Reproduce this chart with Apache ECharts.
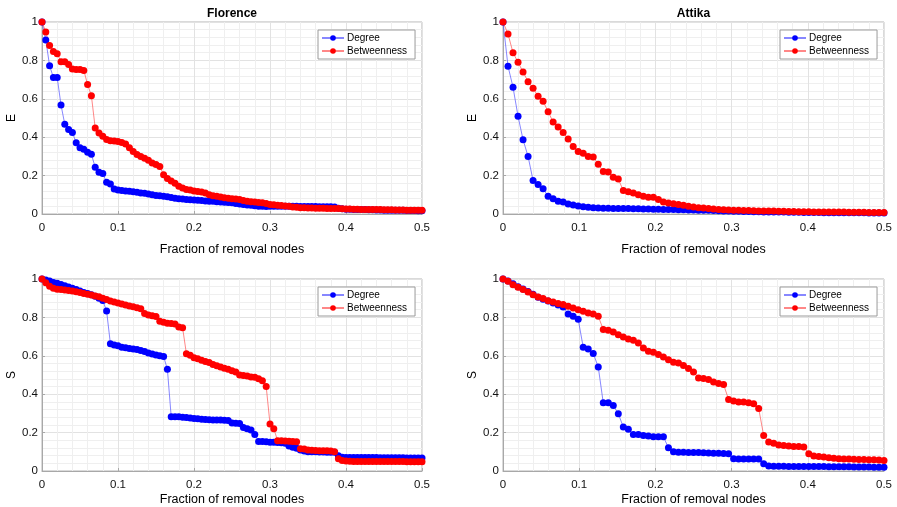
<!DOCTYPE html>
<html>
<head>
<meta charset="utf-8">
<script src="https://cdn.jsdelivr.net/npm/echarts@6/dist/echarts.min.js"></script>
<style>
html, body { margin: 0; padding: 0; background: #fff; }
#chart { width: 897px; height: 507px; }
</style>
</head>
<body>
<div id="chart"></div>
<script>
// fraction of nodes removed per step
const florenceStep = 0.005;
const attikaStep = 1 / 152;

const xTicks = [0, 0.1, 0.2, 0.3, 0.4, 0.5];
const yTicks = [0, 0.2, 0.4, 0.6, 0.8, 1];
const seriesNames = ['Degree', 'Betweenness'];
const panelTitles = ['Florence', 'Attika', '', ''];
const panelYNames = ['E', 'E', 'S', 'S'];

// Florence - efficiency E
const florenceEDegree = [
    1.0, 0.906, 0.772, 0.711, 0.711, 0.568, 0.467, 0.44, 0.425, 0.371, 0.345, 0.337, 0.321, 0.311, 0.243, 0.217, 0.211, 0.165, 0.156, 0.13,
    0.125, 0.122, 0.12, 0.118, 0.116, 0.113, 0.11, 0.108, 0.104, 0.1, 0.097, 0.095, 0.093, 0.09, 0.086, 0.082, 0.08, 0.078, 0.076, 0.074,
    0.073, 0.071, 0.07, 0.068, 0.067, 0.066, 0.064, 0.062, 0.061, 0.06, 0.058, 0.055, 0.052, 0.05, 0.047, 0.045, 0.043, 0.041, 0.04, 0.039,
    0.04, 0.04, 0.04, 0.04, 0.04, 0.04, 0.04, 0.04, 0.039, 0.039, 0.039, 0.039, 0.039, 0.038, 0.038, 0.038, 0.038, 0.037, 0.03, 0.027,
    0.025, 0.025, 0.024, 0.024, 0.023, 0.023, 0.022, 0.022, 0.021, 0.021, 0.02, 0.02, 0.02, 0.019, 0.019, 0.019, 0.018, 0.018, 0.018, 0.017, 0.017
];
const florenceEBetweenness = [
    1.0, 0.948, 0.878, 0.847, 0.835, 0.793, 0.793, 0.778, 0.755, 0.752, 0.752, 0.748, 0.674, 0.616, 0.448, 0.422, 0.405, 0.388, 0.382, 0.38,
    0.378, 0.372, 0.365, 0.345, 0.325, 0.31, 0.3, 0.29, 0.28, 0.265, 0.258, 0.248, 0.205, 0.185, 0.172, 0.16, 0.145, 0.135, 0.128, 0.125,
    0.12, 0.117, 0.114, 0.11, 0.1, 0.095, 0.092, 0.088, 0.085, 0.082, 0.08, 0.078, 0.075, 0.07, 0.066, 0.064, 0.062, 0.06, 0.058, 0.055,
    0.05, 0.048, 0.046, 0.044, 0.042, 0.04, 0.037, 0.035, 0.033, 0.032, 0.031, 0.031, 0.03, 0.03, 0.03, 0.029, 0.029, 0.028, 0.028, 0.027,
    0.026, 0.026, 0.025, 0.025, 0.024, 0.024, 0.024, 0.023, 0.023, 0.023, 0.022, 0.022, 0.022, 0.021, 0.021, 0.021, 0.02, 0.02, 0.02, 0.02, 0.02
];

// Attika - efficiency E
const attikaEDegree = [
    1.0, 0.77, 0.66, 0.509, 0.387, 0.3, 0.174, 0.153, 0.132, 0.092, 0.08, 0.066, 0.062, 0.052, 0.047, 0.042, 0.038, 0.035, 0.033, 0.031,
    0.03, 0.03, 0.029, 0.029, 0.028, 0.028, 0.027, 0.027, 0.026, 0.026, 0.025, 0.025, 0.024, 0.024, 0.023, 0.022, 0.022, 0.021, 0.021, 0.02,
    0.02, 0.019, 0.018, 0.017, 0.016, 0.015, 0.014, 0.014, 0.013, 0.013, 0.012, 0.012, 0.011, 0.011, 0.01, 0.01, 0.01, 0.009, 0.009, 0.009,
    0.008, 0.008, 0.008, 0.008, 0.007, 0.007, 0.007, 0.007, 0.006, 0.006, 0.006, 0.006, 0.006, 0.005, 0.005, 0.005, 0.005
];
const attikaEBetweenness = [
    1.0, 0.9375, 0.84, 0.79, 0.74, 0.689, 0.655, 0.613, 0.587, 0.533, 0.479, 0.453, 0.425, 0.39, 0.351, 0.326, 0.316, 0.3, 0.297, 0.259,
    0.222, 0.219, 0.191, 0.182, 0.122, 0.116, 0.109, 0.1, 0.092, 0.087, 0.087, 0.075, 0.062, 0.057, 0.054, 0.049, 0.045, 0.04, 0.036, 0.033,
    0.031, 0.028, 0.026, 0.023, 0.022, 0.021, 0.02, 0.019, 0.018, 0.018, 0.017, 0.016, 0.016, 0.015, 0.015, 0.014, 0.014, 0.013, 0.013, 0.012,
    0.012, 0.012, 0.011, 0.011, 0.011, 0.01, 0.01, 0.01, 0.01, 0.009, 0.009, 0.009, 0.009, 0.008, 0.008, 0.008, 0.008
];

// Florence - giant component S
const florenceSDegree = [
    1.0, 0.995, 0.99, 0.982, 0.978, 0.972, 0.965, 0.958, 0.952, 0.945, 0.938, 0.93, 0.925, 0.918, 0.91, 0.9, 0.888, 0.833, 0.663, 0.656,
    0.652, 0.645, 0.642, 0.638, 0.635, 0.633, 0.628, 0.622, 0.615, 0.61, 0.604, 0.6, 0.596, 0.53, 0.283, 0.283, 0.282, 0.28, 0.278, 0.276,
    0.274, 0.272, 0.27, 0.268, 0.267, 0.266, 0.266, 0.265, 0.264, 0.263, 0.25, 0.249, 0.248, 0.226, 0.22, 0.214, 0.19, 0.154, 0.154, 0.152,
    0.15, 0.15, 0.148, 0.147, 0.145, 0.13, 0.124, 0.118, 0.11, 0.104, 0.1, 0.1, 0.1, 0.099, 0.099, 0.098, 0.098, 0.098, 0.08, 0.072,
    0.07, 0.07, 0.07, 0.07, 0.07, 0.07, 0.07, 0.07, 0.07, 0.069, 0.069, 0.069, 0.069, 0.069, 0.069, 0.069, 0.068, 0.068, 0.068, 0.068, 0.068
];
const florenceSBetweenness = [
    1.0, 0.98, 0.962, 0.952, 0.947, 0.945, 0.943, 0.94, 0.937, 0.934, 0.93, 0.925, 0.92, 0.917, 0.912, 0.908, 0.9, 0.893, 0.886, 0.88,
    0.875, 0.87, 0.865, 0.86, 0.855, 0.85, 0.845, 0.82, 0.812, 0.808, 0.805, 0.78, 0.775, 0.77, 0.768, 0.765, 0.75, 0.746, 0.611, 0.603,
    0.59, 0.585, 0.577, 0.57, 0.565, 0.555, 0.548, 0.542, 0.535, 0.53, 0.522, 0.515, 0.5, 0.497, 0.495, 0.49, 0.488, 0.48, 0.47, 0.44,
    0.245, 0.22, 0.158, 0.157, 0.156, 0.155, 0.154, 0.152, 0.116, 0.115, 0.11, 0.108, 0.107, 0.106, 0.105, 0.105, 0.104, 0.1, 0.064, 0.055,
    0.052, 0.051, 0.05, 0.05, 0.05, 0.05, 0.05, 0.05, 0.05, 0.05, 0.05, 0.049, 0.049, 0.049, 0.049, 0.049, 0.048, 0.048, 0.048, 0.048, 0.048
];

// Attika - giant component S
const attikaSDegree = [
    1.0, 0.99, 0.975, 0.96, 0.948, 0.935, 0.92, 0.905, 0.895, 0.885, 0.875, 0.865, 0.854, 0.818, 0.806, 0.79, 0.645, 0.636, 0.612, 0.542,
    0.355, 0.355, 0.341, 0.298, 0.229, 0.217, 0.19, 0.19, 0.185, 0.182, 0.178, 0.178, 0.178, 0.121, 0.1, 0.098, 0.098, 0.097, 0.097, 0.096,
    0.095, 0.094, 0.093, 0.092, 0.091, 0.09, 0.064, 0.063, 0.063, 0.062, 0.062, 0.062, 0.038, 0.026, 0.025, 0.025, 0.025, 0.024, 0.024, 0.024,
    0.024, 0.023, 0.023, 0.023, 0.023, 0.022, 0.022, 0.022, 0.022, 0.022, 0.021, 0.021, 0.021, 0.021, 0.02, 0.02, 0.02
];
const attikaSBetweenness = [
    1.0, 0.988, 0.97, 0.957, 0.945, 0.932, 0.918, 0.906, 0.898, 0.887, 0.88, 0.872, 0.867, 0.858, 0.849, 0.84, 0.832, 0.823, 0.818, 0.806,
    0.737, 0.733, 0.724, 0.71, 0.698, 0.688, 0.681, 0.667, 0.641, 0.624, 0.619, 0.607, 0.594, 0.579, 0.567, 0.563, 0.549, 0.534, 0.516, 0.485,
    0.482, 0.477, 0.464, 0.456, 0.45, 0.373, 0.364, 0.36, 0.359, 0.355, 0.35, 0.326, 0.185, 0.151, 0.144, 0.135, 0.133, 0.13, 0.128, 0.127,
    0.125, 0.09, 0.078, 0.075, 0.073, 0.069, 0.066, 0.064, 0.062, 0.062, 0.061, 0.06, 0.06, 0.059, 0.058, 0.057, 0.055
];

const fontFamily = '"Liberation Sans", Arial, Helvetica, sans-serif';

// panel order: top-left, top-right, bottom-left, bottom-right
const panels = [
    { degree: florenceEDegree, betweenness: florenceEBetweenness, step: florenceStep },
    { degree: attikaEDegree, betweenness: attikaEBetweenness, step: attikaStep },
    { degree: florenceSDegree, betweenness: florenceSBetweenness, step: florenceStep },
    { degree: attikaSDegree, betweenness: attikaSBetweenness, step: attikaStep }
];
const gridBoxes = [
    { left: 42, top: 22, width: 380, height: 192 },
    { left: 503, top: 22, width: 381, height: 192 },
    { left: 42, top: 279, width: 380, height: 193 },
    { left: 503, top: 279, width: 381, height: 193 }
];

function toPairs(values, step) {
    return values.map((v, i) => [i * step, v]);
}

const chart = echarts.init(document.getElementById('chart'), null, { renderer: 'canvas' });

const grid = gridBoxes.map(b => ({
    left: b.left,
    top: b.top,
    width: b.width,
    height: b.height,
    show: true,
    backgroundColor: '#fff',
    borderColor: '#b4b4b4',
    borderWidth: 1
}));

const xAxis = gridBoxes.map((b, k) => ({
    type: 'value',
    gridIndex: k,
    min: xTicks[0],
    max: xTicks[xTicks.length - 1],
    interval: xTicks[1] - xTicks[0],
    name: 'Fraction of removal nodes',
    nameLocation: 'middle',
    nameGap: k < 2 ? 29 : 22,
    nameTextStyle: { fontFamily: fontFamily, fontSize: 12.5, color: '#000' },
    axisLine: { show: true, lineStyle: { color: '#a8a8a8' } },
    axisTick: { show: true, inside: true, length: 3, lineStyle: { color: '#a8a8a8' } },
    axisLabel: { fontFamily: fontFamily, fontSize: 11.5, color: '#111', margin: 8 },
    splitLine: { show: true, lineStyle: { color: '#e2e2e2', width: 1 } },
    minorTick: { show: false, splitNumber: 5 },
    minorSplitLine: { show: true, lineStyle: { color: '#efefef', width: 1 } }
}));

const yAxis = gridBoxes.map((b, k) => ({
    type: 'value',
    gridIndex: k,
    min: yTicks[0],
    max: yTicks[yTicks.length - 1],
    interval: yTicks[1] - yTicks[0],
    name: panelYNames[k],
    nameLocation: 'middle',
    nameGap: 23,
    nameTextStyle: { fontFamily: fontFamily, fontSize: 12, color: '#000' },
    axisLine: { show: true, lineStyle: { color: '#a8a8a8' } },
    axisTick: { show: true, inside: true, length: 3, lineStyle: { color: '#a8a8a8' } },
    axisLabel: { fontFamily: fontFamily, fontSize: 11.5, color: '#111', margin: 4 },
    splitLine: { show: true, lineStyle: { color: '#e2e2e2', width: 1 } },
    minorTick: { show: false, splitNumber: 5 },
    minorSplitLine: { show: true, lineStyle: { color: '#efefef', width: 1 } }
}));

const title = [];
panelTitles.forEach((t, k) => {
    if (!t) return;
    const b = gridBoxes[k];
    title.push({
        text: t,
        left: b.left + b.width / 2,
        top: b.top - 14,
        textAlign: 'center',
        padding: 0,
        textStyle: { fontFamily: fontFamily, fontSize: 12, fontWeight: 'bold', color: '#000' }
    });
});

const legend = gridBoxes.map(b => ({
    orient: 'vertical',
    left: b.left + b.width - 104,
    top: b.top + 8,
    data: seriesNames,
    itemWidth: 22,
    itemHeight: 7,
    itemGap: 3,
    padding: [3, 8, 3, 3],
    backgroundColor: '#fff',
    borderColor: '#9a9a9a',
    borderWidth: 1,
    borderRadius: 0,
    selectedMode: false,
    textStyle: { fontFamily: fontFamily, fontSize: 10, color: '#000', padding: [0, 0, 0, -2] }
}));

const series = [];
panels.forEach((p, k) => {
    series.push({
        name: seriesNames[0],
        type: 'line',
        xAxisIndex: k,
        yAxisIndex: k,
        data: toPairs(p.degree, p.step),
        symbol: 'circle',
        symbolSize: 7,
        itemStyle: { color: '#0000ff' },
        lineStyle: { width: 1, color: 'rgba(70,70,255,0.65)' },
        animation: false
    });
    series.push({
        name: seriesNames[1],
        type: 'line',
        xAxisIndex: k,
        yAxisIndex: k,
        data: toPairs(p.betweenness, p.step),
        symbol: 'circle',
        symbolSize: 7,
        itemStyle: { color: '#ff0000' },
        lineStyle: { width: 1, color: 'rgba(255,70,70,0.65)' },
        animation: false
    });
});

chart.setOption({
    animation: false,
    backgroundColor: '#fff',
    title: title,
    legend: legend,
    grid: grid,
    xAxis: xAxis,
    yAxis: yAxis,
    series: series
});
</script>
</body>
</html>
